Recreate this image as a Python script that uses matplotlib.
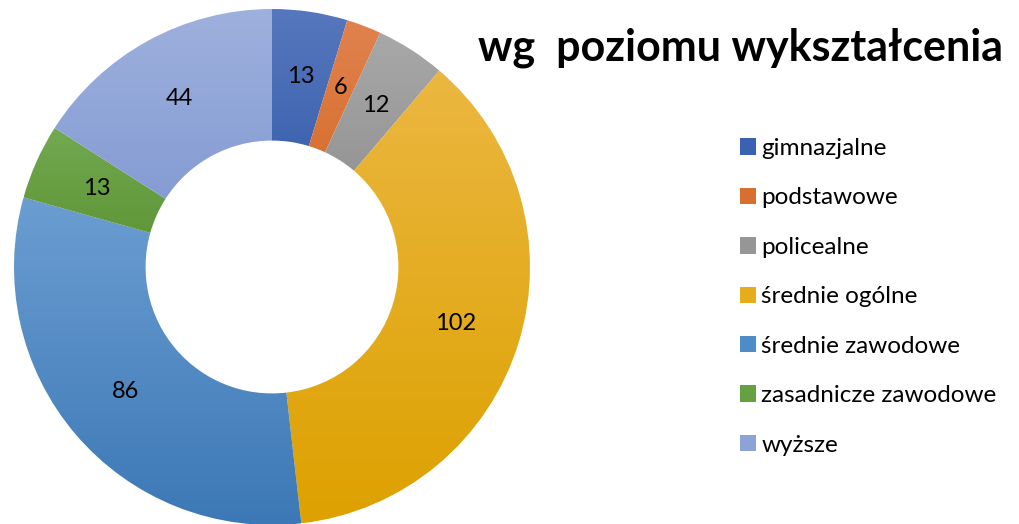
import numpy as np
import matplotlib.pyplot as plt
from matplotlib.colors import to_rgb
from matplotlib.patches import Patch

labels = ['gimnazjalne', 'podstawowe', 'policealne', 'średnie ogólne',
          'średnie zawodowe', 'zasadnicze zawodowe', 'wyższe']
values = [13, 6, 12, 102, 86, 13, 44]
title = 'wg  poziomu wykształcenia'

# top / bottom colours of the gradient fill for each slice
top_colors = ['#5677bd', '#e0824e', '#a8a8a8', '#ebb740', '#6b9dd1', '#72a952', '#9eb0dd']
bot_colors = ['#2c55a5', '#d3631a', '#898989', '#dda100', '#3c78b6', '#5a912f', '#7c95d0']
legend_colors = ['#3b62b0', '#d86e30', '#969696', '#e5ad1a', '#4f8bc6', '#65a042', '#8da2d6']

plt.rcParams['font.family'] = ['Lato', 'DejaVu Sans']

W, H = 1019, 524
fig = plt.figure(figsize=(W / 100, H / 100), dpi=100)
cx, cy, R = 272, 267, 258
ax = fig.add_axes([(cx - R) / W, (H - cy - R) / H, 2 * R / W, 2 * R / H])

wedges, texts = ax.pie(values, startangle=90, counterclock=False, radius=1,
                       wedgeprops=dict(width=0.51, linewidth=0),
                       labels=[str(v) for v in values], labeldistance=0.745,
                       textprops=dict(fontsize=17, ha='center', va='center'))

for w, c0, c1 in zip(wedges, top_colors, bot_colors):
    v = w.get_path().vertices
    x0, x1 = v[:, 0].min(), v[:, 0].max()
    y0, y1 = v[:, 1].min(), v[:, 1].max()
    t = np.linspace(0, 1, 64)[:, None]
    grad = (1 - t) * np.array(to_rgb(c1)) + t * np.array(to_rgb(c0))
    im = ax.imshow(grad[:, None, :], extent=(x0, x1, y0, y1), origin='lower',
                   aspect='auto', zorder=1, interpolation='bilinear')
    im.set_clip_path(w)
    w.set_facecolor('none')

for t in texts:
    t.set_zorder(3)

ax.set_xlim(-1, 1)
ax.set_ylim(-1, 1)
ax.set_aspect('equal')
ax.axis('off')

fig.text(478 / W, 1 - 60 / H, title, fontsize=31, fontweight='bold',
         ha='left', va='baseline')

handles = [Patch(facecolor=c, edgecolor='none') for c in legend_colors]
fig.legend(handles, labels, loc='upper left', bbox_to_anchor=(740 / W, 1 - 138 / H),
           frameon=False, fontsize=17.5, handlelength=0.66, handleheight=0.66,
           handletextpad=0.22, labelspacing=1.17, borderaxespad=0, borderpad=0)

fig.savefig('out.png', dpi=100)
